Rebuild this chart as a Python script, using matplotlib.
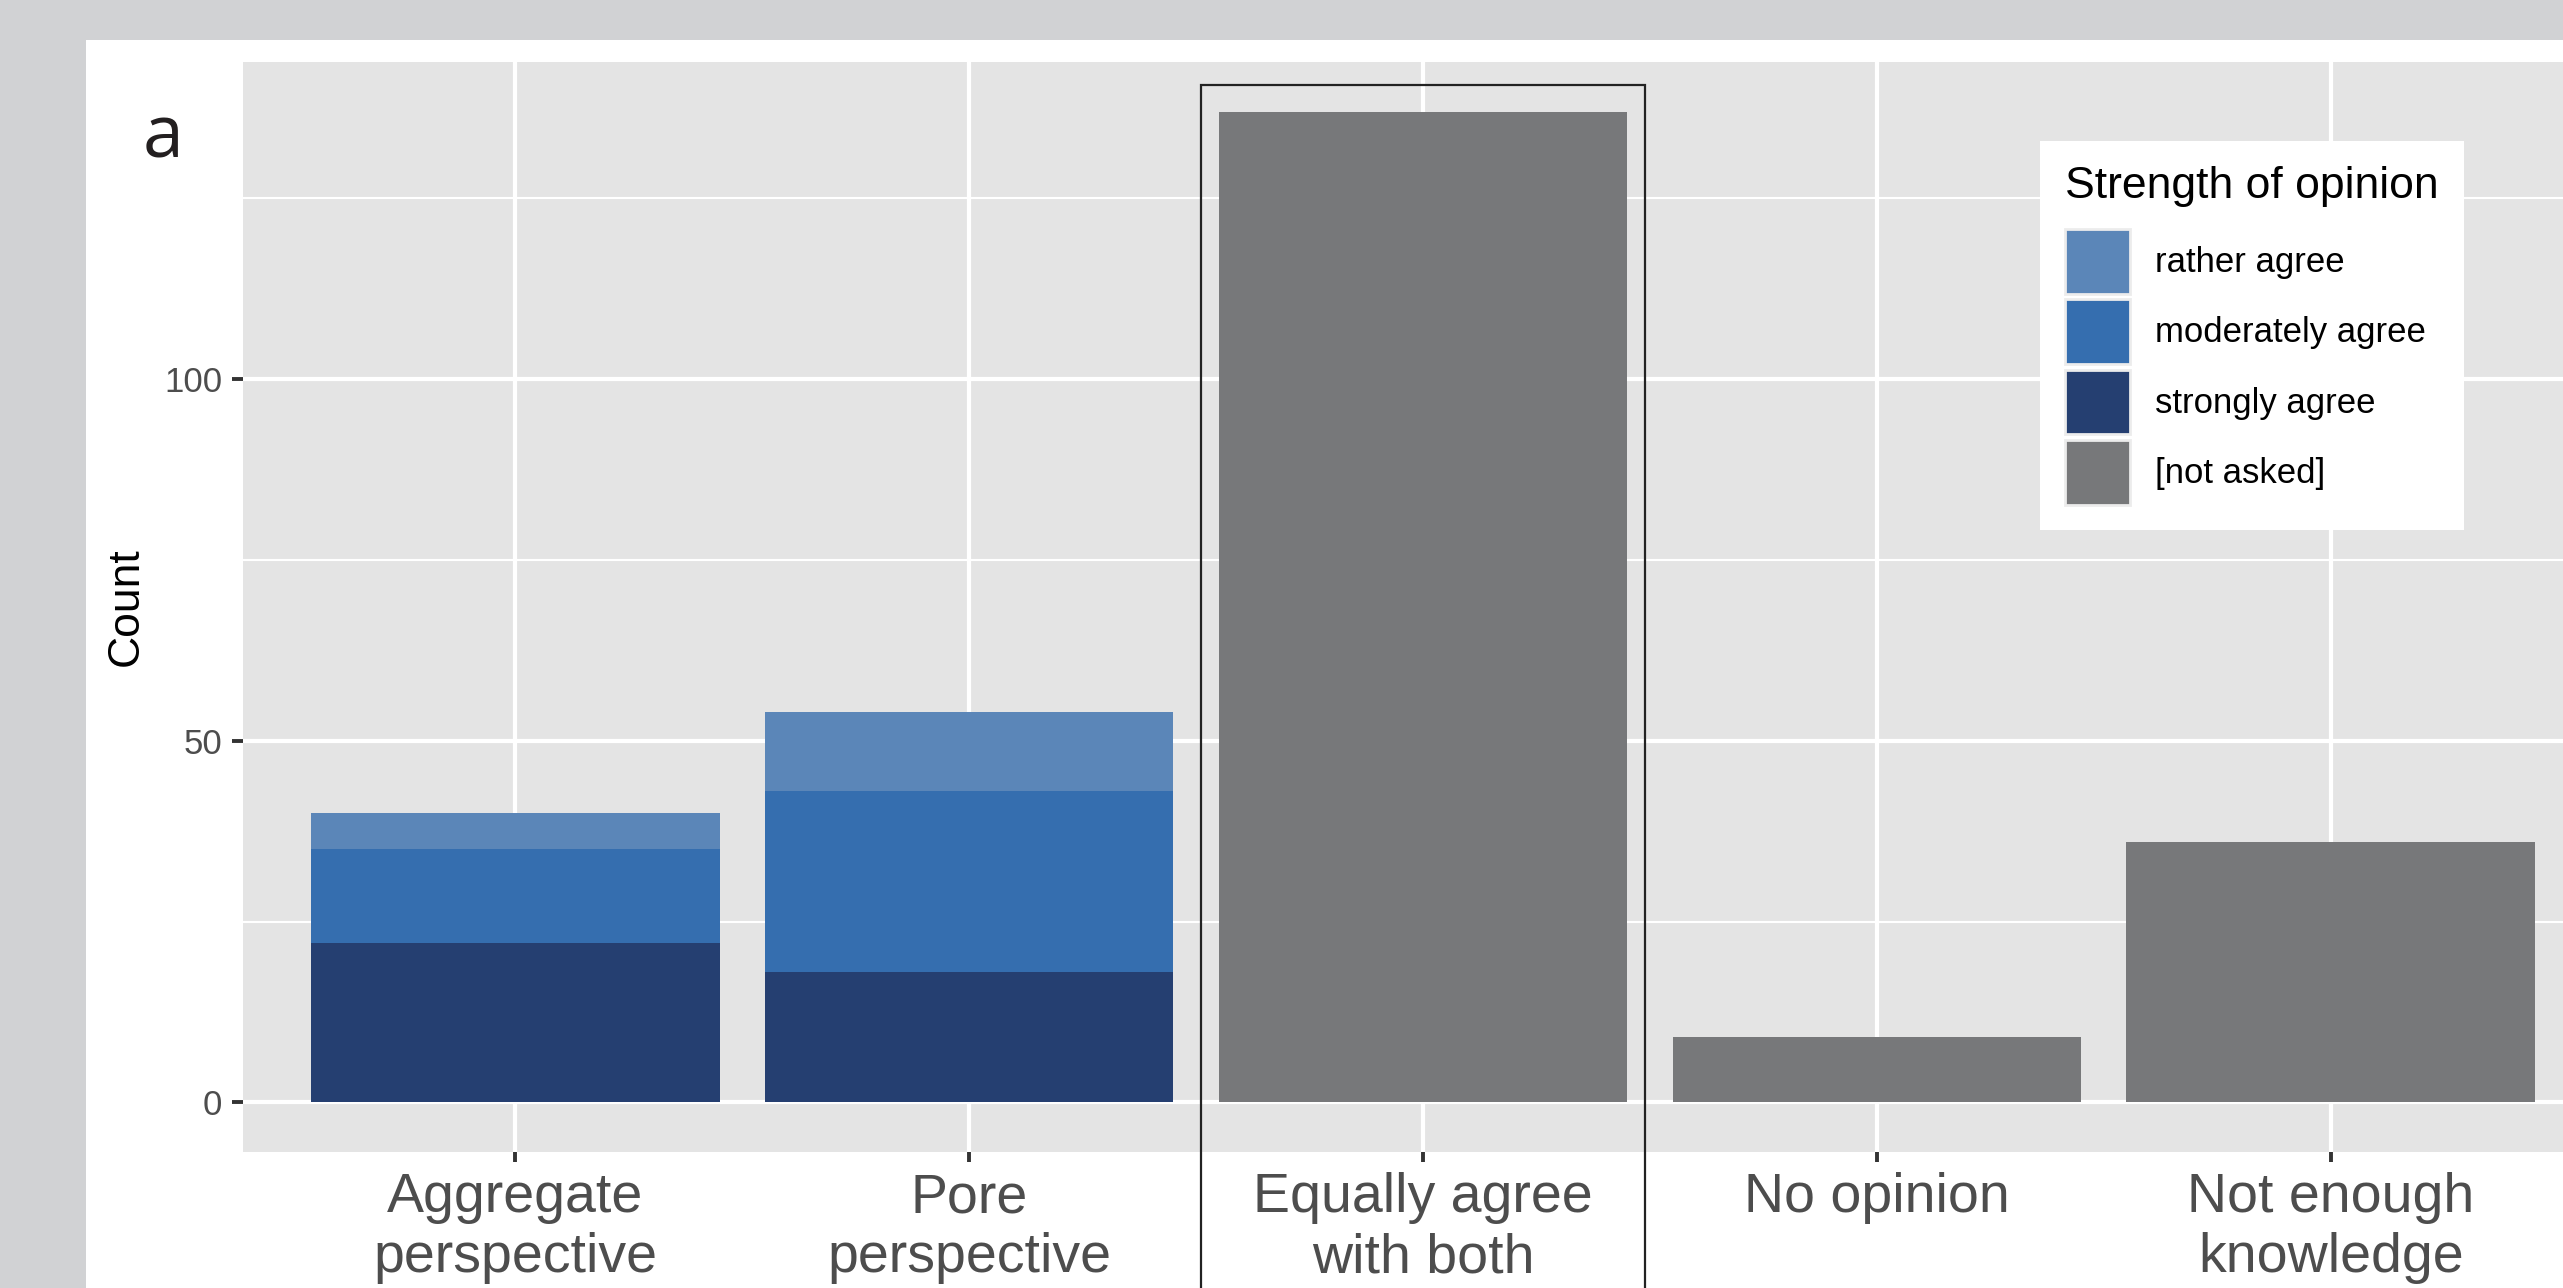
import matplotlib
matplotlib.use("Agg")
import matplotlib.pyplot as plt
from matplotlib.patches import Rectangle, Patch
from matplotlib.ticker import FixedLocator
import numpy as np

# data
categories = ["Aggregate\nperspective", "Pore\nperspective", "Equally agree\nwith both",
              "No opinion", "Not enough\nknowledge"]
strongly = [22, 18, 0, 0, 0]
moderately = [13, 25, 0, 0, 0]
rather = [5, 11, 0, 0, 0]
not_asked = [0, 0, 137, 9, 36]

legend_labels = ["rather agree", "moderately agree", "strongly agree", "[not asked]"]
colors = ["#5b86b8", "#356eaf", "#253f71", "#77787a"]

W, H = 2563, 1288
plt.rcParams['font.family'] = ['Liberation Sans', 'DejaVu Sans']

fig = plt.figure(figsize=(W / 100, H / 100), dpi=100, facecolor="#d1d2d4")
# white page area (picture is cropped on the right and bottom)
fig.patches.append(Rectangle((86 / W, -0.1), 1.0, 1.1 - 40 / H, transform=fig.transFigure,
                             facecolor="white", edgecolor="none", zorder=-5))

ax = fig.add_axes([243 / W, 1 - 1152 / H, (2603 - 243) / W, (1152 - 62) / H])
ax.set_facecolor("#e4e4e4")

x = np.arange(len(categories))
s = np.array(strongly)
m = np.array(moderately)
r = np.array(rather)
ax.bar(x, s, width=0.9, color=colors[2], lw=0)
ax.bar(x, m, width=0.9, bottom=s, color=colors[1], lw=0)
ax.bar(x, r, width=0.9, bottom=s + m, color=colors[0], lw=0)
ax.bar(x, not_asked, width=0.9, color=colors[3], lw=0)

total = s + m + r + np.array(not_asked)
ymax = total.max()
ax.set_ylim(-0.05 * ymax, 1.05 * ymax)
ax.set_xlim(-0.6, len(categories) - 0.4)

for sp in ax.spines.values():
    sp.set_visible(False)

ax.set_yticks([0, 50, 100])
ax.yaxis.set_minor_locator(FixedLocator([25, 75, 125]))
ax.set_xticks(x)
ax.set_xticklabels(categories, fontsize=40, color="#4d4d4d", linespacing=1.2)
ax.tick_params(axis="y", which="major", length=8, width=2.8, color="#333333",
               labelsize=25, labelcolor="#4d4d4d", pad=7)
ax.tick_params(axis="x", which="major", length=7, width=2.8, color="#333333", pad=7.5)
ax.tick_params(which="minor", length=0)
ax.set_axisbelow(True)
ax.grid(which="major", color="white", lw=3)
ax.grid(which="minor", axis="y", color="white", lw=1.5)

# box around the "Equally agree" column
highlight = 2
ax.add_patch(Rectangle((highlight - 0.49, -40), 0.98, 140.7 + 40, fill=False,
                       ec="#222222", lw=1.6, clip_on=False, zorder=5))

fig.text(126 / W, 1 - 607 / H, "Count", rotation=90, ha="center", va="center",
         fontsize=32, color="black")
fig.text(163 / W, 1 - 157 / H, "a", ha="center", va="baseline", fontsize=53,
         color="#231f20", family=["Open Sans", "DejaVu Sans"])

handles = [Patch(facecolor=c, edgecolor="#ececec", lw=2) for c in colors]
leg = ax.legend(handles, legend_labels, title="Strength of opinion", loc="upper left",
                bbox_to_anchor=(2040 / W, 1 - 141 / H), bbox_transform=fig.transFigure,
                borderaxespad=0, fontsize=25, title_fontsize=32, handlelength=1.87,
                handleheight=2.5, labelspacing=0.15, handletextpad=0.72, borderpad=0.72,
                frameon=True, fancybox=False, framealpha=1, alignment="left")
leg.get_frame().set_facecolor("white")
leg.get_frame().set_edgecolor("none")
leg._legend_box.sep = 16

fig.savefig("out.png", dpi=100, facecolor=fig.get_facecolor())
